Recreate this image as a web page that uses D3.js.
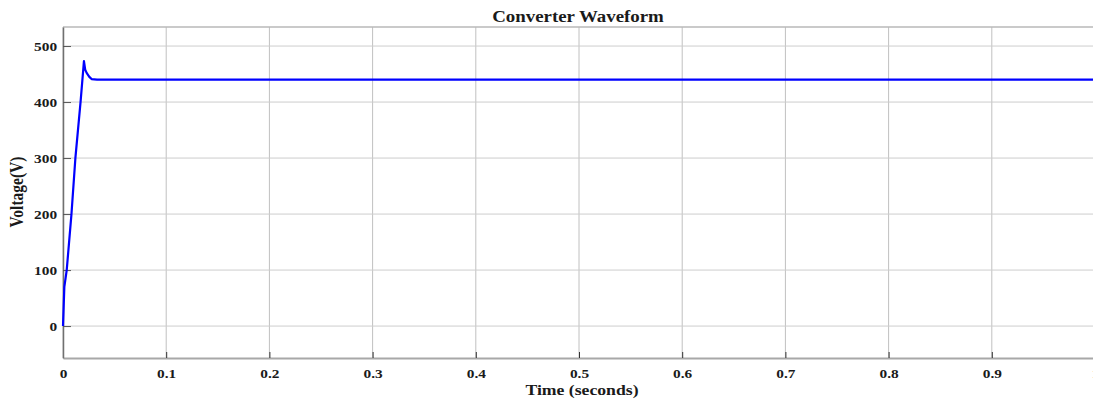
<!DOCTYPE html>
<html>
<head>
<meta charset="utf-8">
<script src="https://cdn.jsdelivr.net/npm/d3@7/dist/d3.min.js"></script>
<style>
  html, body { margin: 0; padding: 0; background: #fff; }
  svg { display: block; }
  text { font-family: "Liberation Serif", "Times New Roman", serif; font-weight: bold; fill: #1a1a1a; }
</style>
</head>
<body>
<svg id="chart" width="1093" height="401"></svg>
<script>
// Converter output voltage vs time
const timeS   = [0, 0.0013, 0.0036, 0.0082, 0.012, 0.017, 0.0203, 0.0215, 0.0229, 0.0255, 0.0277, 0.033, 0.2, 0.5, 1.0];
const voltage = [0, 70, 100, 200, 300, 400, 473, 458, 452, 445, 441, 440, 440, 440, 440];
const xTicks = [0, 0.1, 0.2, 0.3, 0.4, 0.5, 0.6, 0.7, 0.8, 0.9, 1];
const yTicks = [0, 100, 200, 300, 400, 500];

const svg = d3.select("#chart");
const plotL = 63, plotR = 1095, plotT = 27, plotB = 358;
const wide = 1.18; // horizontal widening of the serif lettering

const x = d3.scaleLinear().domain([0, 1]).range([plotL, plotR]);
const y = d3.scaleLinear().domain([-57, 534]).range([plotB, plotT]);

// grid
const grid = svg.append("g");
grid.selectAll(".vg").data(xTicks).join("line")
  .attr("x1", d => x(d)).attr("x2", d => x(d))
  .attr("y1", plotT).attr("y2", plotB)
  .attr("stroke", "#c0c0c0").attr("stroke-width", 1);
grid.selectAll(".hg").data(yTicks).join("line")
  .attr("x1", plotL).attr("x2", plotR)
  .attr("y1", d => y(d)).attr("y2", d => y(d))
  .attr("stroke", "#cdcdcd").attr("stroke-width", 1);

// top border
svg.append("line").attr("x1", plotL).attr("x2", plotR).attr("y1", plotT).attr("y2", plotT)
  .attr("stroke", "#b8b8b8").attr("stroke-width", 1.5);

// axes
const xAxis = d3.axisBottom(x).tickValues(xTicks).tickFormat(d3.format("")).tickSizeInner(-6).tickSizeOuter(0).tickPadding(11);
const gx = svg.append("g").attr("transform", `translate(0,${plotB})`).call(xAxis);
gx.select(".domain").attr("stroke", "#a8a8a8").attr("stroke-width", 2);
gx.selectAll(".tick line").attr("stroke", "#333");
gx.selectAll("text").attr("font-size", 13).attr("fill", "#1a1a1a")
  .attr("transform", `scale(${wide},1)`)
  .style("font-family", "'Liberation Serif', serif").style("font-weight", "bold");

const yAxis = d3.axisLeft(y).tickValues(yTicks).tickSizeInner(-8).tickSizeOuter(0).tickPadding(5);
const gy = svg.append("g").attr("transform", `translate(${plotL},0)`).call(yAxis);
gy.select(".domain").attr("stroke", "#707070").attr("stroke-width", 1.5);
gy.selectAll(".tick line").attr("stroke", "#555");
gy.selectAll("text").attr("font-size", 13).attr("fill", "#1a1a1a")
  .attr("transform", `scale(${wide},1)`)
  .style("font-family", "'Liberation Serif', serif").style("font-weight", "bold");

// waveform
const line = d3.line().x((d, i) => x(timeS[i])).y(d => y(d));
svg.append("path").datum(voltage)
  .attr("d", line)
  .attr("fill", "none")
  .attr("stroke", "#0000ff")
  .attr("stroke-width", 2.2)
  .attr("stroke-linejoin", "round");

// labels
svg.append("text").attr("transform", `translate(578,22) scale(${wide},1)`).attr("text-anchor", "middle")
  .attr("font-size", 16).text("Converter Waveform");
svg.append("text").attr("transform", `translate(582,395) scale(${wide},1)`).attr("text-anchor", "middle")
  .attr("font-size", 15).text("Time (seconds)");
svg.append("text").attr("transform", "translate(23,192) rotate(-90) scale(1,1.15)").attr("text-anchor", "middle")
  .attr("font-size", 15.5).text("Voltage(V)");
</script>
</body>
</html>
